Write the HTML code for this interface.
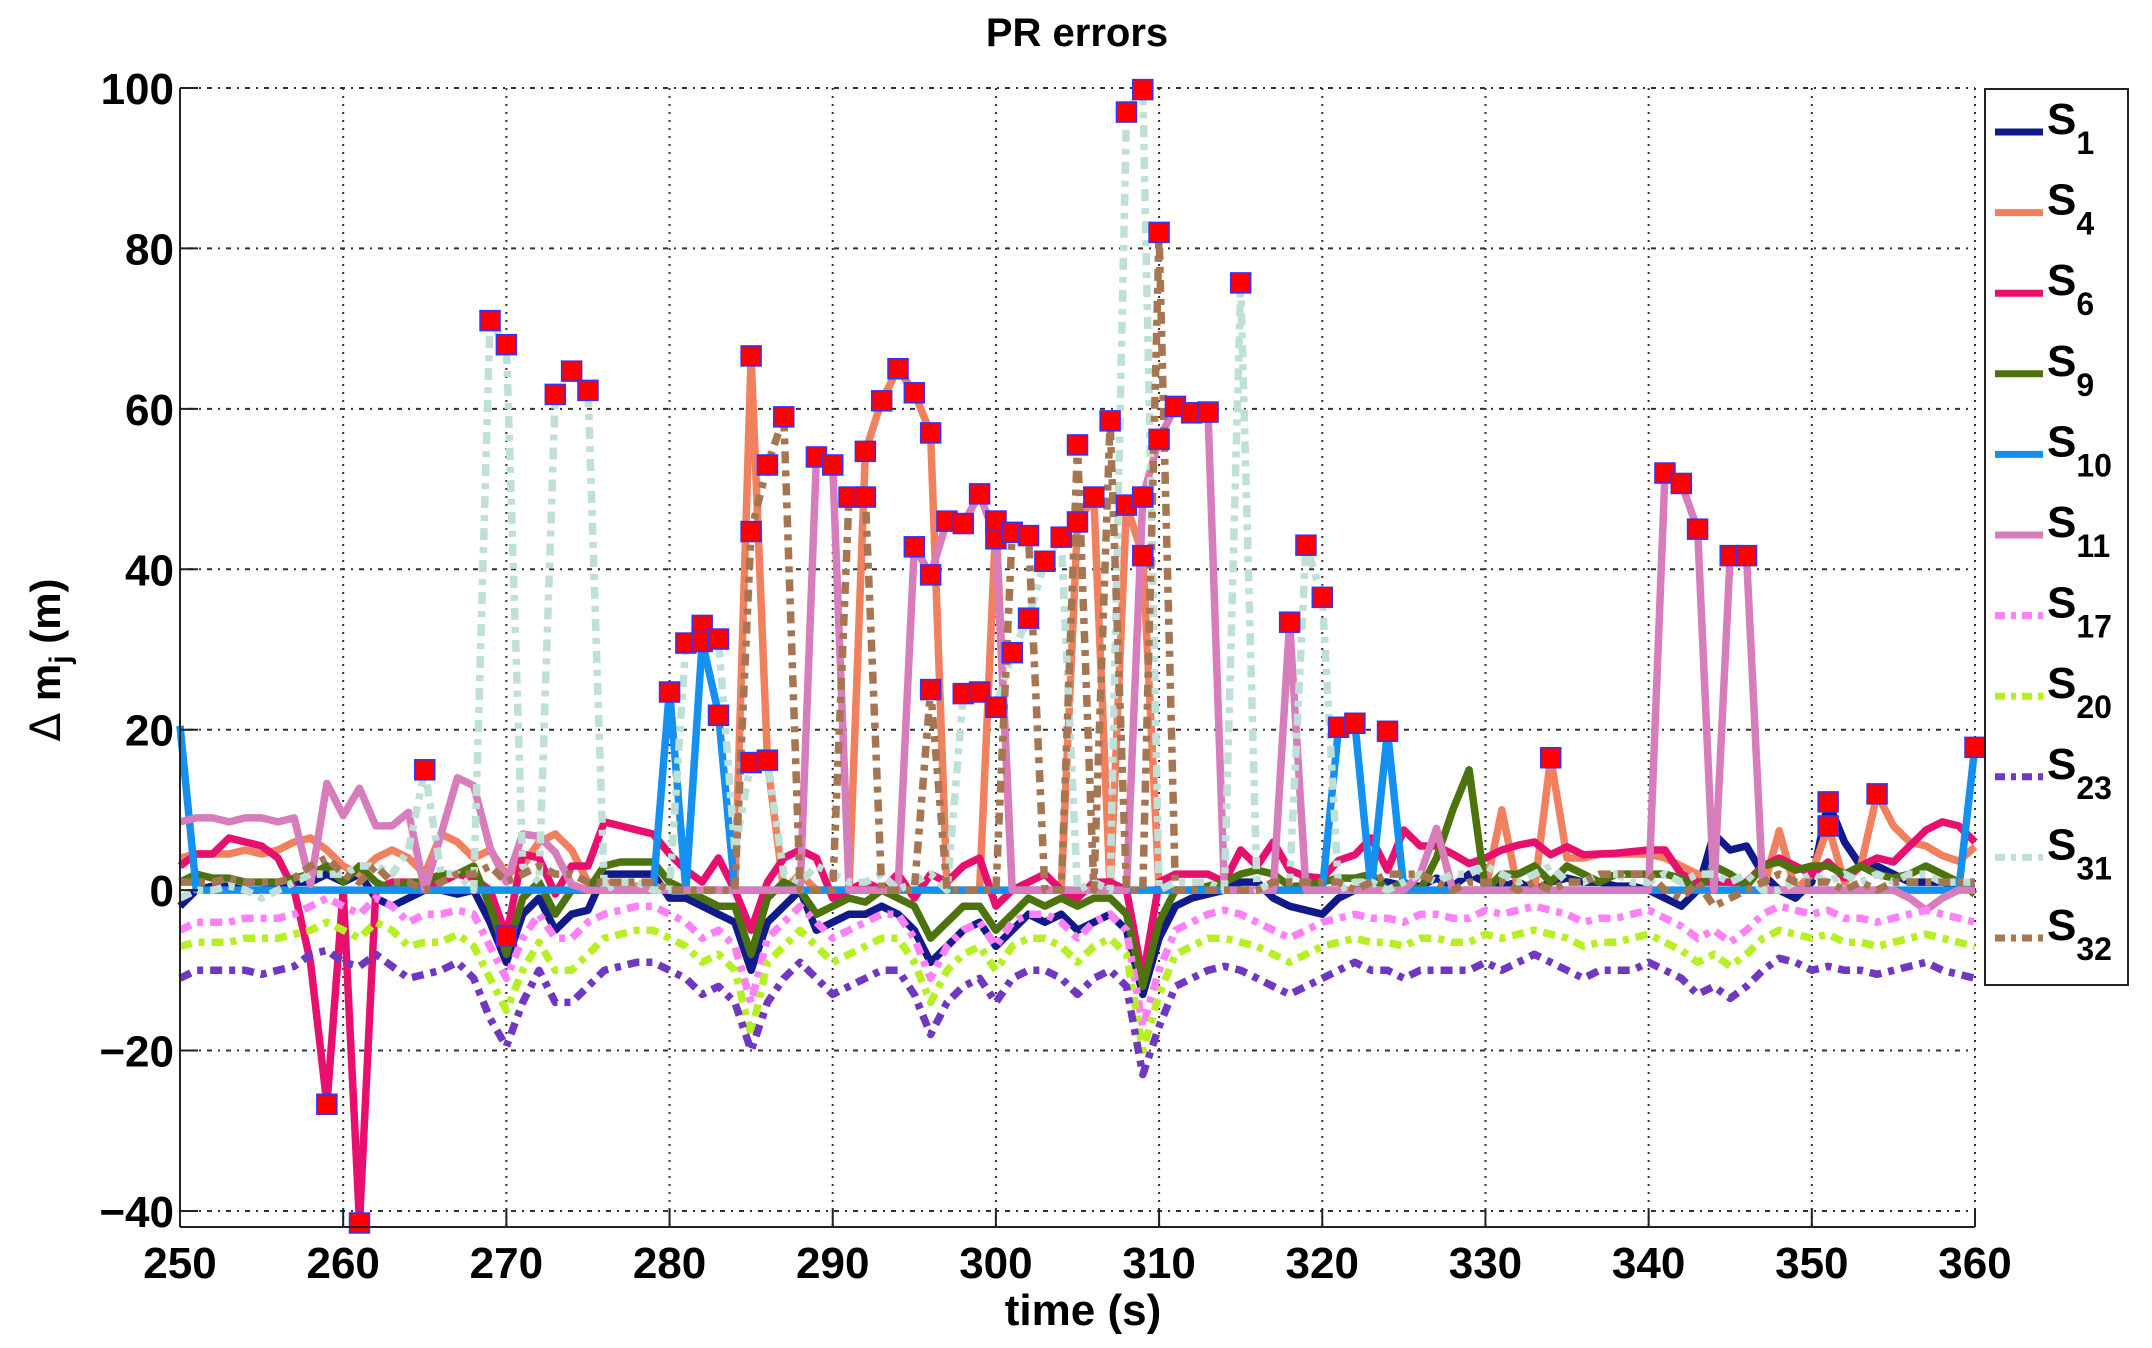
<!DOCTYPE html>
<html><head><meta charset="utf-8"><title>PR errors</title>
<style>
html,body{margin:0;padding:0;background:#fff;}
svg{display:block;font-family:"Liberation Sans",Arial,sans-serif;}
</style></head>
<body>
<svg id="chart" width="2152" height="1348" viewBox="0 0 2152 1348" xmlns="http://www.w3.org/2000/svg">
<rect x="0" y="0" width="2152" height="1348" fill="#fff"/>
<g id="grid"></g>
<g id="series"></g>
<g id="markers"></g>
<g id="axes"></g>
<text x="1077" y="46" text-anchor="middle" font-size="40" font-weight="bold">PR errors</text>
<text x="1083" y="1325" text-anchor="middle" font-size="44" font-weight="bold">time (s)</text>
<text transform="translate(60,660) rotate(-90)" text-anchor="middle" font-size="42" font-weight="bold"><tspan font-weight="normal" font-family="DejaVu Sans, sans-serif">Δ</tspan> m<tspan font-size="30" dy="10">j</tspan><tspan dy="-10"> (m)</tspan></text>
<g id="legend"></g>
</svg>
<script>
const times = [];
for (let t = 250; t <= 360; t++) times.push(t);
const xTicks = [250,260,270,280,290,300,310,320,330,340,350,360];
const yTicks = [-40,-20,0,20,40,60,80,100];
const seriesNames = ["S1","S4","S6","S9","S10","S11","S17","S20","S23","S31","S32"];

const s1 = [-2,0,0.5,0.5,0,0,0.5,1,1,2, 1,2,-1,-2,-1,0,0,-0.5,0,-4, -9,-3,-1,-5,-3,-2.5,2,2,2,2, -1,-1,-2,-3,-4,-10,-4,-2,0,-5, -4,-3,-3,-2,-3,-5,-9,-7,-5,-4, -7,-5,-3,-4,-3,-5,-4,-3,-5,-13, -6,-2,-1,-0.5,0,1,1,-1,-2,-2.5, -3,-1,0,1,1,0.5,0.5,1.5,0.5,2, 1,0.5,1,0,1,1.5,1,1,0.5,0.5, 0,-1,-2,0,7,5,5.5,2,0,-1, 1,11,6,3,3,2,1,1,1,0.5,0.5];
const s4 = [4,4.5,4.5,4.5,5,4.5,5,6,6.5,5, 3,2,4,5,4,2,7,6,4,5, 2,3,6,7,5,1,1,0.5,0.5,0.5, 0,0,0,0,0,66.6,16,0,2,0, 0,0,54.7,61,65,62,57,0,0,0, 46,0,0,0,0,45.9,49,0,48,41.7, 0,0,0,0,0,0,0,0,0,0, 0,0,0,0,0,0,0,0,0,0, 0,10,0,0,16.5,4,4,4.5,4.5,4.5, 4.5,4,3,2,1,1,0,0,7.4,0, 2,8,1,3,12,8,6,5.5,4.3,3.6,5.4];
const s6 = [3,4.5,4.5,6.5,6,5.5,4,0,-9,-26.7, 0,-41.5,0,1,1,0,1,2,1.5,0, -5.7,4.5,4,-0.5,3,3,8.5,8,7.5,7, 4.5,2.5,1,4,0,-5,1,4,5,4, -1,0,1,0,2,-1,2,1,3,4, -2,0,1,2,0,-1,1,1,0,-11, 1,2,2,2,1,5,3,6,2.5,1.7, 1.5,3.7,4.4,6.5,2.5,7.5,5.5,5.5,4.5,3.3, 4,5,5.6,6,4.4,5.4,4.4,4.5,4.6,4.8, 5,5,2,1,1,1,1,3,4,3, 2,3.5,1.5,3,4,3.5,5.5,7.5,8.5,8,6];
const s9 = [1,2,1.5,1.5,1,1,1,1.5,2,3, 1,3,1,0,1,1,2,2,3,-2, -8,-1,1,-3,0,0,3,3.5,3.5,3.5, 1,0,-1,-2,-2,-8,-1,1,0,-3, -2,-1,-1.5,0,-1,-2,-6,-4,-2,-2, -5,-3,-1,-2,-1,-2,-1,-1,-3,-12, -4,0,0,0.5,1,2,2.5,2,0.5,0.5, 1,1.5,1.5,2,0,1,0,4,10,15, 0,2,2,3,1,3,2,1,2,2, 2,2,1.5,0,3,2,0.5,3,3.5,2.5, 3,3,2,3,2,1.5,2,3,2,1,-0.5];
const s10 = [20.5,0,0,0,0,0,0,0,0,0, 0,0,0,0,0,0,0,0,0,0, 0,0,0,0,0,0,0,0,0,0, 25,0,31,22,0,0,0,0,0,0, 0,0,0,0,0,0,0,0,0,0, 0,0,0,0,0,0,0,0,0,0, 0,0,0,0,0,0,0,0,0,0, 0,20.3,20.8,0,19.8,0,0,0,0,0, 0,0,0,0,0,0,0,0,0,0, 0,0,0,0,0,0,0,0,0,0, 0,0,0,0,0,0,0,0,0,0,18];
const s11 = [8.5,9,9,8.5,9,9,8.5,9,0.7,13.3, 9.3,12.7,8,8,9.7,0,7,14,13,5.3, 1,7,6.7,4.7,0.7,0,0,0,0,0, 0,0,0,0,0,0,0,0,0,54, 53,0,0,0,0,42.8,39.3,46,45.7,49.4, 43.8,0,0,0,0,0,0,0,0,49, 56.2,60.3,59.5,59.6,0,0,0,0,33.4,0, 0,0,0,0,0,0,2,7.7,0,0, 0,0,0,0,0,0,0,0,0,0, 0,52,50.7,45,0,41.7,41.7,0,0,0, 0,0,0,0,0,0,-1,-2.5,-1,0,0];
const s17 = [-5,-4,-4,-4,-3.5,-3.5,-3.5,-3,-2,-1, -2,-3,-1,-2,-4,-3,-3,-2.5,-3,-7, -11,-6,-3,-6,-6,-4,-3,-2.5,-2,-2, -3,-4,-6,-5,-7,-14,-6,-4,-2,-4, -6,-5,-4,-3,-3,-6,-11,-7,-5,-4, -7,-4,-3,-3,-4,-6,-4,-3,-5,-17, -10,-5,-4,-3,-2.5,-3,-4,-5,-6,-5, -4,-3.5,-3,-3.5,-3.5,-4,-3,-3,-3.5,-3.5, -2.5,-3,-2.5,-2,-2.5,-3,-4,-3.5,-3.5,-3, -2.5,-3.5,-4.5,-6,-5,-6.5,-5,-3,-2,-2.5, -3,-2.5,-3.5,-3.5,-4,-3.5,-3,-2.5,-3,-3.5,-4];
const s20 = [-7,-6.5,-6.5,-6.5,-6,-6,-6,-5.5,-5,-4, -5,-6,-4,-5,-7,-6.5,-6.5,-5.5,-7,-11, -15,-10,-6.5,-10,-10,-8,-6,-5.5,-5,-5, -6,-7,-9,-8,-10,-18,-9,-7,-5,-7, -9,-8,-7,-6,-6,-9,-14,-10,-8,-7, -10,-7,-6,-6,-7,-9,-7,-6,-8,-20, -13,-8,-7,-6,-6,-6.5,-7,-8,-9,-8, -7,-6.5,-6,-6.5,-6.5,-7,-6,-6,-6.5,-6.5, -5.5,-6,-5.5,-5,-5.5,-6,-7,-6.5,-6.5,-6, -5.5,-6.5,-7.5,-9,-8,-9.5,-8,-6,-5,-5.5, -6,-5.5,-6.5,-6.5,-7,-6.5,-6,-5.5,-6,-6.5,-7];
const s23 = [-11,-10,-10,-10,-10,-10.5,-10,-9.5,-8,-7.5, -9,-9.5,-8,-9.5,-11,-10.5,-10,-9,-11,-16, -19.5,-14,-10,-14,-14,-12,-10,-9.5,-9,-9, -10,-11,-13,-12,-14,-20,-14,-11,-9,-11, -13,-12,-11,-10,-10,-13,-18,-14,-12,-11, -14,-11,-10,-10,-11,-13,-11,-10,-12,-23, -17,-12,-11,-10,-9.5,-10,-11,-12,-13,-12, -11,-10,-9,-10,-10,-11,-10,-10,-10,-10, -9,-10,-9,-8,-9,-10,-11,-10,-10,-10, -9,-10,-11,-13,-12,-13.5,-12,-10,-8.5,-9, -10,-9.5,-10,-10,-10.5,-10,-9.5,-9,-10,-10.5,-11];
const s31 = [-1,0,0,0.5,0,-1,0,1,2,2, 2,3,3,2,5,15,2,2,0,71, 68,3,1,62,65,62.5,0,1,1,0, 0,31,33,31.3,5,16,16,2,1,3, 2,1,1,2,0,1,2,0,24.5,24.7, 22.8,29.6,33.9,41,44,0,1,0,97,100, 0,1,1,1,0,75.7,0,1,1,43, 36.5,0,1,1,0,1,2,1,2,2, 3,2,1,2,3,1,1,2,2,1, 1,2,1,2,2,1,2,0,0,1, 2,1,2,1,2,1,2,2,1,1,1];
const s32 = [1,1,1,1.5,1,1,1,1.5,3,4, 2,1,3,1,1,0,1,2,2,3, 1,2,3,2,2,1,1,1,1,1, 0,0,0,0,0,44.7,53,59,0,0, 0,49,49,0,0,0,25,0,0,0, 0,44.6,44.2,0,0,55.5,0,58.5,0,0, 82,0,0,0,0,0,0,1,1,1, 1,1,0,1,2,2,2,1,0,1, 1,1,0,1,0,1,1,2,2,2, 2,0,-1,1,-2,-1,0,1,2,1, 1,1,0,1,0,1,1,1,1,1,1];

const seriesData = [s1,s4,s6,s9,s10,s11,s17,s20,s23,s31,s32];
const seriesColors = ["#111a8a","#f0805e","#e8106f","#4c730e","#1490f0","#d77dbc","#ff80f7","#b6ef22","#7038c0","#bfe0d7","#a67652"];
const seriesDashed = [false,false,false,false,false,false,true,true,true,true,true];

const markerTimes = [259,261,265,269,270,270,273,274,275,280,281,282,282,283,283,285,285,285,286,286,287,289,290,291,292,292,293,294,295,295,296,296,296,297,298,298,299,299,300,300,300,300,301,301,302,302,303,304,305,305,306,307,308,308,309,309,309,310,310,311,312,313,315,318,319,320,321,322,324,334,341,342,343,345,346,351,351,354,360];
const markerValues = [-26.7,-41.5,15,71,68,-5.7,61.8,64.7,62.3,24.7,30.8,33,31,31.3,21.8,66.6,44.7,15.9,16.2,53,59,54,53,49,49,54.7,61,65,62,42.8,57,39.3,25,46,45.7,24.5,49.4,24.7,46,43.8,22.8,46,44.6,29.6,44.2,33.9,41,44,45.9,55.5,49,58.5,97,48,99.8,49,41.7,82,56.2,60.3,59.5,59.6,75.7,33.4,43,36.5,20.3,20.8,19.8,16.5,52,50.7,45,41.7,41.7,11,8,12,17.8];

const X0 = 180, X1 = 1975, Y0 = 88, Y1 = 1227, YMAX = 100, YMIN = -42, TMIN = 250, TMAX = 360;
function xScale(t){ return X0 + (t - TMIN) / (TMAX - TMIN) * (X1 - X0); }
function yScale(v){ return Y0 + (YMAX - v) / (YMAX - YMIN) * (Y1 - Y0); }
const NS = "http://www.w3.org/2000/svg";
function mk(tag, attrs, parent){
  const e = document.createElementNS(NS, tag);
  for (const k in attrs) e.setAttribute(k, attrs[k]);
  parent.appendChild(e); return e;
}
const grid = document.getElementById('grid');
const axes = document.getElementById('axes');
xTicks.forEach(t => {
  if (t === TMIN) return;
  const x = xScale(t);
  const l = mk('line', {x1:x, y1:Y0, x2:x, y2:Y1, stroke:'#333', 'stroke-width':2, 'stroke-dasharray':'2,6'}, grid);
  
  
});
yTicks.forEach(v => {
  const y = yScale(v);
  const l = mk('line', {x1:X0, y1:y, x2:X1, y2:y, stroke:'#333', 'stroke-width':2, 'stroke-dasharray':'2,6,5,6'}, grid);
  
  
});
const sg = document.getElementById('series');
seriesData.forEach((arr, i) => {
  const pts = arr.map((v, k) => xScale(times[k]).toFixed(1) + ',' + yScale(v).toFixed(1)).join(' ');
  const attrs = {points:pts, fill:'none', stroke:seriesColors[i], 'stroke-width':7.5, 'stroke-linejoin':'round'};
  if (seriesDashed[i]) attrs['stroke-dasharray'] = '12,7,6,7';
  const p = mk('polyline', attrs, sg);
  
  
});
const mg = document.getElementById('markers');
markerTimes.forEach((t, i) => {
  const r = mk('rect', {x:xScale(t)-10, y:yScale(markerValues[i])-10, width:20, height:20, fill:'#ff0000', stroke:'#3333ff', 'stroke-width':1.5}, mg);
  
  
});
const la = mk('line', {x1:X0, y1:Y0, x2:X0, y2:Y1, stroke:'#222', 'stroke-width':2}, axes);


const ba = mk('line', {x1:X0, y1:Y1, x2:X1, y2:Y1, stroke:'#222', 'stroke-width':2}, axes);


xTicks.forEach(t => {
  const x = xScale(t);
  const tk = mk('line', {x1:x, y1:Y1, x2:x, y2:Y1-18, stroke:'#222', 'stroke-width':2}, axes);
  
  
  const tx = mk('text', {x:x, y:1278, 'text-anchor':'middle', 'font-size':44, 'font-weight':'bold'}, axes);
  tx.textContent = t;
  
  
});
yTicks.forEach(v => {
  const y = yScale(v);
  const tk = mk('line', {x1:X0, y1:y, x2:X0+18, y2:y, stroke:'#222', 'stroke-width':2}, axes);
  
  
  const tx = mk('text', {x:174, y:y+16, 'text-anchor':'end', 'font-size':44, 'font-weight':'bold'}, axes);
  tx.textContent = v < 0 ? '\u2212' + Math.abs(v) : String(v);
  
  
});
const lg = document.getElementById('legend');
const box = mk('rect', {x:1985, y:89, width:143, height:896, fill:'#fff', stroke:'#222', 'stroke-width':2}, lg);


seriesNames.forEach((n, i) => {
  const y = 132 + i * 80.6;
  const attrs = {x1:1995, y1:y, x2:2043, y2:y, stroke:seriesColors[i], 'stroke-width':7};
  if (seriesDashed[i]) attrs['stroke-dasharray'] = '10,6,5,6';
  const l = mk('line', attrs, lg);
  
  
  const tx = mk('text', {x:2047, y:y+2, 'font-size':44, 'font-weight':'bold'}, lg);
  
  
  const a = document.createElementNS(NS, 'tspan'); a.textContent = 'S'; tx.appendChild(a);
  const b = document.createElementNS(NS, 'tspan'); b.setAttribute('font-size', '32'); b.setAttribute('dy', '20'); b.textContent = n.slice(1); tx.appendChild(b);
});
</script>
</body></html>
